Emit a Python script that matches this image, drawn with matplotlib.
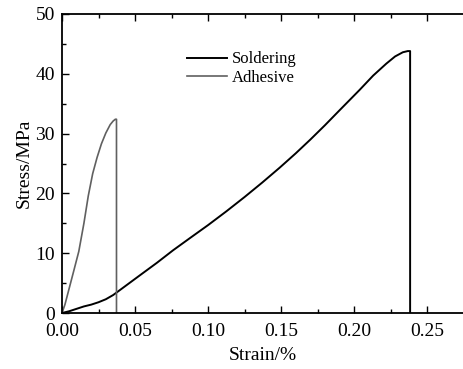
import matplotlib
matplotlib.use("Agg")
import matplotlib.pyplot as plt

# data
solder_strain = [0, 0.005, 0.01, 0.015, 0.02, 0.025, 0.03, 0.035, 0.04, 0.0533,
                 0.065, 0.0761, 0.088, 0.10, 0.1125, 0.125, 0.137, 0.149, 0.16,
                 0.17, 0.18, 0.19, 0.2037, 0.213, 0.222, 0.228, 0.2333, 0.2367,
                 0.2383, 0.2383]
solder_stress = [0, 0.3, 0.7, 1.1, 1.4, 1.8, 2.3, 3.0, 3.9, 6.3,
                 8.4, 10.5, 12.6, 14.7, 17.0, 19.4, 21.8, 24.3, 26.7,
                 29.0, 31.4, 33.9, 37.3, 39.7, 41.7, 42.9, 43.6, 43.8,
                 43.8, 0]

adh_strain = [0, 0.002, 0.005, 0.008, 0.0115, 0.015, 0.018, 0.021, 0.024,
              0.027, 0.030, 0.033, 0.035, 0.0365, 0.0373, 0.0373]
adh_stress = [0, 1.4, 4.2, 7.0, 10.3, 15.0, 19.6, 23.3, 26.0,
              28.3, 30.1, 31.5, 32.1, 32.4, 32.4, 0]

plt.rcParams["font.family"] = ["Liberation Serif", "DejaVu Serif"]

fig = plt.figure(figsize=(4.63, 3.69), dpi=100)
ax = fig.add_axes([62 / 463, 56 / 369, 401 / 463, 299 / 369])

ax.plot(solder_strain, solder_stress, color="black", lw=1.4, label="Soldering")
ax.plot(adh_strain, adh_stress, color="#606060", lw=1.2, label="Adhesive")

ax.set_xlim(0, 0.2745)
ax.set_ylim(0, 50)
ax.set_xticks([0, 0.05, 0.10, 0.15, 0.20, 0.25])
ax.set_xticks([0.025, 0.075, 0.125, 0.175, 0.225], minor=True)
ax.set_yticks([0, 10, 20, 30, 40, 50])
ax.set_yticks([5, 15, 25, 35, 45], minor=True)
ax.xaxis.set_major_formatter(matplotlib.ticker.FormatStrFormatter("%.2f"))

ax.tick_params(which="both", direction="in", top=True, right=False,
               labelsize=14, width=1.0)
ax.tick_params(which="major", length=5, pad=5)
ax.tick_params(axis="x", which="major", pad=7)
ax.tick_params(which="minor", length=3)

ax.spines["right"].set_visible(False)
for s in ["left", "bottom", "top"]:
    ax.spines[s].set_linewidth(1.3)

ax.set_xlabel("Strain/%", fontsize=14, labelpad=5)
ax.set_ylabel("Stress/MPa", fontsize=14, labelpad=2)

ax.legend(loc="upper left", bbox_to_anchor=(0.312, 0.875), frameon=False,
          fontsize=12, handlelength=2.4, handletextpad=0.3, borderpad=0,
          borderaxespad=0, labelspacing=0.15)

fig.savefig("out.png", dpi=100)
